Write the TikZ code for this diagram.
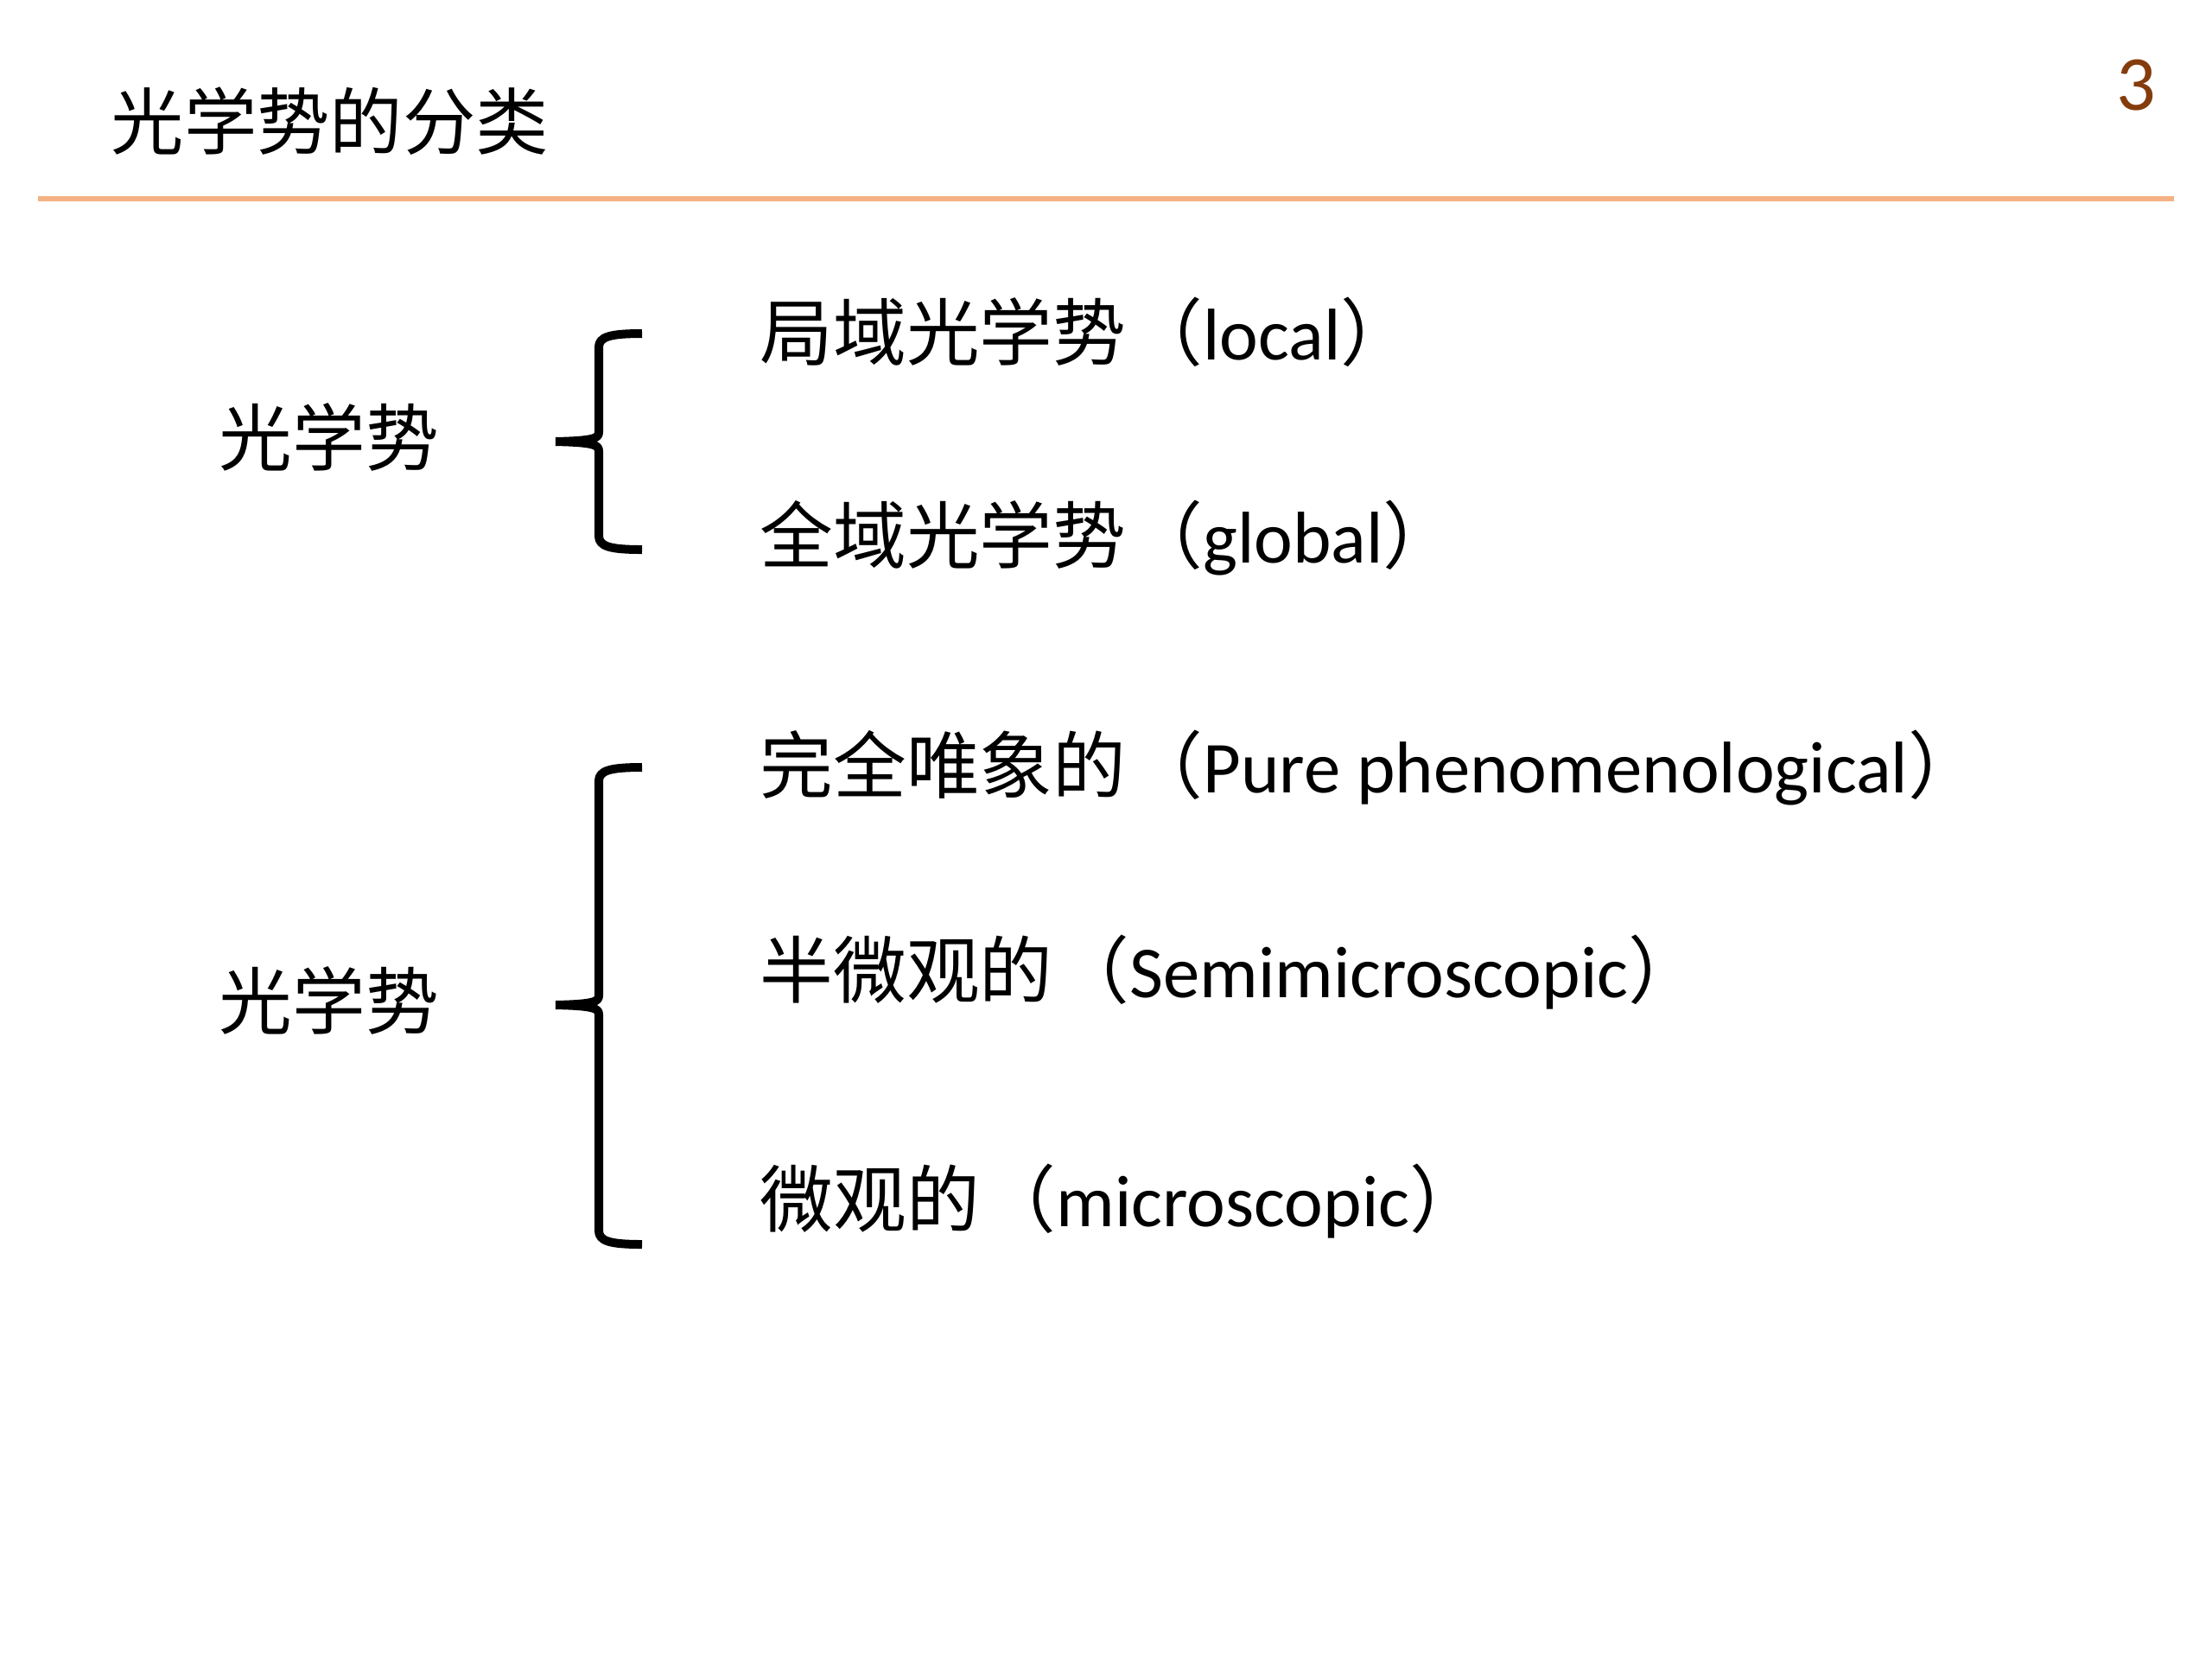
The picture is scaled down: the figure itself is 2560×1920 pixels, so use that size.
\documentclass[tikz,border=0pt]{standalone}
\usepackage{fontspec}
\setmainfont{Carlito}
\newfontfamily\cjk{Noto Sans CJK SC}
\definecolor{linecol}{RGB}{244,177,131}
\definecolor{numcol}{RGB}{132,60,12}
\newcommand{\lpar}{\kern0.04cm{\cjk （}}
\newcommand{\rpar}{{\cjk ）}}
\begin{document}
\begin{tikzpicture}[x=0.01cm,y=-0.01cm,
  txt/.style={anchor=base west, inner sep=0pt, font=\fontsize{24.1pt}{28pt}\selectfont},
  bracestroke/.style={line width=0.1cm, line cap=butt, line join=round}]
\useasboundingbox (0,0) rectangle (2560,1920);
\fill[white] (0,0) rectangle (2560,1920);
% header
\node[txt, font=\fontsize{24.0pt}{28pt}\selectfont] (title) at (128,172) {\cjk 光学势的分类};
\node[anchor=base east, inner sep=0pt, font=\fontsize{25.6pt}{30pt}\selectfont, text=numcol] (num) at (2496,127) {3};
\coordinate (rulel) at (44,230);
\coordinate (ruler) at (2516,230);
\draw[linecol, line width=0.065cm] (rulel) -- (ruler);
% group 1
\node[txt] (lab1) at (253,538) {\cjk 光学势};
\node[txt] (i1) at (879,416) {{\cjk 局域光学势}\lpar local\rpar};
\node[txt] (i2) at (879,651) {{\cjk 全域光学势}\lpar global\rpar};
\coordinate (b1top) at (743,386);
\coordinate (b1mid) at (643,511);
\coordinate (b1bot) at (743,636);
\draw[bracestroke] (b1top) .. controls (705,386) and (693,390) .. (693,402) -- (693,500) .. controls (693,507) and (688,510) .. (b1mid);
\draw[bracestroke] (b1mid) .. controls (688,512) and (693,515) .. (693,522) -- (693,620) .. controls (693,632) and (705,636) .. (b1bot);
% group 2
\node[txt] (lab2) at (253,1190) {\cjk 光学势};
\node[txt] (i3) at (879,917) {{\cjk 完全唯象的}\lpar Pure phenomenological\rpar};
\node[txt] (i4) at (879,1154) {{\cjk 半微观的}\lpar Semimicroscopic\rpar};
\node[txt] (i5) at (879,1419) {{\cjk 微观的}\lpar microscopic\rpar};
\coordinate (b2top) at (743,888);
\coordinate (b2mid) at (643,1163);
\coordinate (b2bot) at (743,1440);
\draw[bracestroke] (b2top) .. controls (705,888) and (693,892) .. (693,904) -- (693,1152) .. controls (693,1159) and (688,1162) .. (b2mid);
\draw[bracestroke] (b2mid) .. controls (688,1164) and (693,1167) .. (693,1174) -- (693,1424) .. controls (693,1436) and (705,1440) .. (b2bot);
\end{tikzpicture}
\end{document}
